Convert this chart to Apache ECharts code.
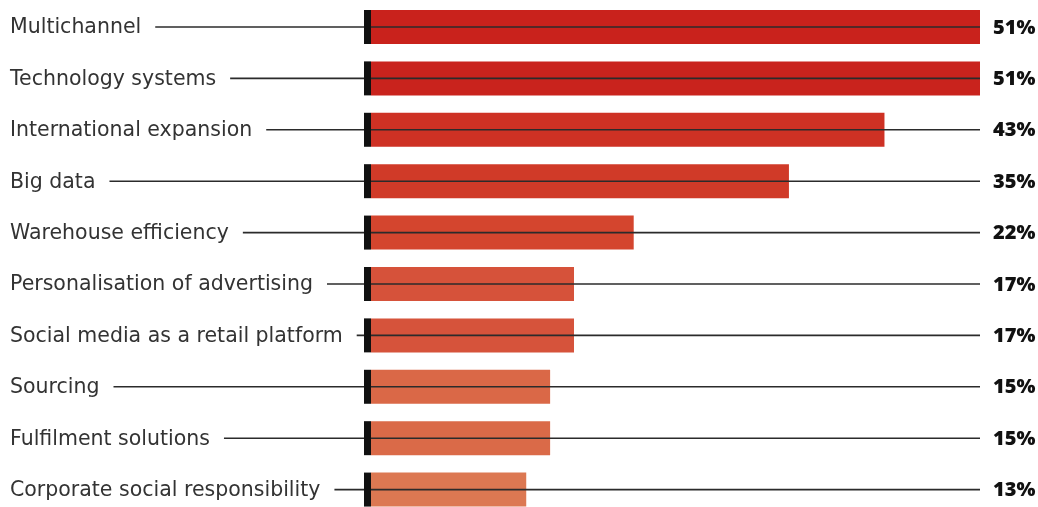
<!DOCTYPE html>
<html>
<head>
<meta charset="utf-8">
<script src="https://cdn.jsdelivr.net/npm/echarts@6/dist/echarts.min.js"></script>
<style>
  html, body { margin: 0; padding: 0; background: #fff; }
  #chart { width: 1038px; height: 507px; }
</style>
</head>
<body>
<div id="chart"></div>
<script>
// Share of retailers naming each area as a priority (%)
const categories = [
  'Multichannel',
  'Technology systems',
  'International expansion',
  'Big data',
  'Warehouse efficiency',
  'Personalisation of advertising',
  'Social media as a retail platform',
  'Sourcing',
  'Fulfilment solutions',
  'Corporate social responsibility'
];
const values = [51, 51, 43, 35, 22, 17, 17, 15, 15, 13];
const barColors = [
  '#c9221c', '#c9231d', '#ce3124', '#d03a28', '#d4452e',
  '#d6523a', '#d6533b', '#da6847', '#da6a48', '#dc7852'
];

const AXIS_MAX = 51;
const LABEL_FONT = '20.5px "DejaVu Sans"';
const VALUE_FONT = '900 20px "Noto Sans"';
const LABEL_X = 10;
const RULE_GAP = 14;
const BAR_H = 34;

const measureCtx = document.createElement('canvas').getContext('2d');
function textWidth(str, font) {
  measureCtx.font = font;
  return measureCtx.measureText(str).width;
}

const chart = echarts.init(document.getElementById('chart'), null, { renderer: 'canvas' });

chart.setOption({
  animation: false,
  backgroundColor: '#ffffff',
  grid: { left: 371, right: 58, top: 0, bottom: 0, containLabel: false },
  xAxis: { type: 'value', min: 0, max: AXIS_MAX, show: false },
  // rows sit on integer positions of a continuous axis
  yAxis: { type: 'value', inverse: true, min: -0.525, max: 9.339, show: false },
  series: [
    {
      type: 'custom',
      silent: true,
      data: values.map((v, i) => [v, i]),
      encode: { x: 0, y: 1 },
      renderItem: function (params, api) {
        const i = params.dataIndex;
        const base = api.coord([0, i]);
        const tip = api.coord([api.value(0), i]);
        const end = api.coord([AXIS_MAX, i]);
        const y = base[1];
        const name = categories[i];
        const ruleStart = LABEL_X + textWidth(name, LABEL_FONT) + RULE_GAP;
        return {
          type: 'group',
          children: [
            {
              type: 'rect',
              shape: { x: base[0], y: y - BAR_H / 2, width: tip[0] - base[0], height: BAR_H },
              style: { fill: barColors[i] }
            },
            {
              type: 'text',
              style: {
                x: LABEL_X, y: y + 1, text: name,
                font: LABEL_FONT, fill: '#333333',
                textVerticalAlign: 'middle', textAlign: 'left'
              }
            },
            {
              type: 'line',
              shape: { x1: ruleStart, y1: y, x2: end[0], y2: y },
              style: { stroke: '#2b2b2b', lineWidth: 1.6 }
            },
            {
              type: 'rect',
              shape: { x: base[0] - 7, y: y - BAR_H / 2, width: 7, height: BAR_H },
              style: { fill: '#111111' }
            },
            {
              type: 'text',
              style: {
                x: end[0] + 13, y: y + 1, text: api.value(0) + '%',
                font: VALUE_FONT, fill: '#111111',
                textVerticalAlign: 'middle', textAlign: 'left'
              }
            }
          ]
        };
      }
    }
  ]
});
</script>
</body>
</html>
